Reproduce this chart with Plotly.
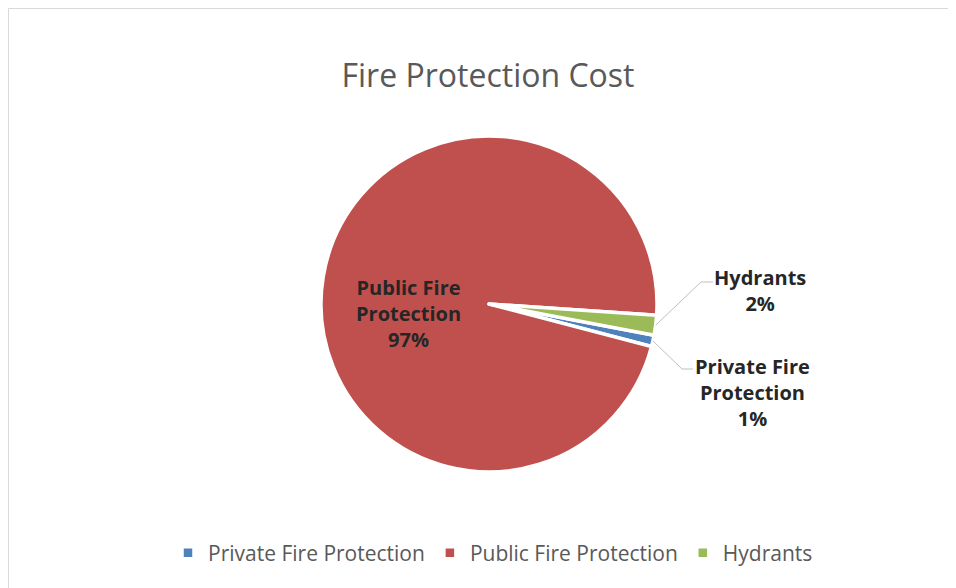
import math
import plotly.graph_objects as go

# Data
categories = ["Private Fire Protection", "Public Fire Protection", "Hydrants"]
label_lines = [["Private Fire", "Protection"], ["Public Fire", "Protection"], ["Hydrants"]]
values = [1.1, 97.0, 1.9]
colors = ["#4f81bd", "#c0504d", "#9bbb59"]

# Layout (page is offset by the 8px body margin)
OFF = 8
W, H = 956 - OFF, 588 - OFF
ROT = 100.7
cx, cy, R = 489 - OFF, 304 - OFF, 168


def px(x):
    return x / W


def py(y):
    return 1 - y / H


fig = go.Figure()
fig.add_trace(go.Pie(
    labels=categories,
    values=values,
    sort=False,
    direction="clockwise",
    rotation=ROT,
    marker=dict(colors=colors, line=dict(color="white", width=3.5)),
    textinfo="none",
    hoverinfo="label+percent",
    domain=dict(x=[px(cx - R), px(cx + R)], y=[py(cy + R), py(cy - R)]),
    showlegend=True,
))

# slice angles (clockwise from 12 o'clock) from data
total = sum(values)
starts, mids = [], []
a = ROT
for v in values:
    span = 360 * v / total
    starts.append(a)
    mids.append(a + span / 2)
    a += span

# label placement (layout constants, page coords minus offset)
label_pos = {
    0: (752 - OFF, 392 - OFF),
    1: (408 - OFF, 313 - OFF),
    2: (760 - OFF, 290 - OFF),
}
elbows = {
    0: [(682 - OFF, 369 - OFF), (693 - OFF, 369 - OFF)],
    2: [(701 - OFF, 282 - OFF), (713 - OFF, 282 - OFF)],
}

annotations = []
shapes = [
    dict(type="line", xref="paper", yref="paper",
         x0=px(0.5), x1=px(0.5), y0=0, y1=py(0.5),
         line=dict(color="#d9d9d9", width=1)),
    dict(type="line", xref="paper", yref="paper",
         x0=px(0.5), x1=1, y0=py(0.5), y1=py(0.5),
         line=dict(color="#d9d9d9", width=1)),
]

for i, cat in enumerate(categories):
    pct = round(100 * values[i] / total)
    txt = "<br>".join(label_lines[i] + [f"{pct}%"])
    lx, ly = label_pos[i]
    annotations.append(dict(
        x=px(lx), y=py(ly), xref="paper", yref="paper",
        text=f"<b>{txt}</b>", showarrow=False,
        xanchor="center", yanchor="middle", align="center",
        font=dict(family="Open Sans", size=20, color="#262626"),
    ))
    if i in elbows:
        th = math.radians(mids[i])
        sx = cx + R * math.sin(th)
        sy = cy - R * math.cos(th)
        pts = [(sx, sy)] + elbows[i]
        path = "M " + " L ".join(f"{px(x):.5f},{py(y):.5f}" for x, y in pts)
        shapes.append(dict(type="path", xref="paper", yref="paper", path=path,
                           line=dict(color="#bfbfbf", width=1)))

fig.update_layout(
    width=W, height=H,
    margin=dict(l=0, r=0, t=0, b=0),
    paper_bgcolor="white",
    plot_bgcolor="white",
    title=dict(text="Fire Protection Cost", x=px(488 - OFF), xanchor="center",
               y=py(76 - OFF), yanchor="middle",
               font=dict(family="Open Sans", size=32, color="#595959")),
    legend=dict(orientation="h", x=px(493 - OFF), xanchor="center",
                y=py(553 - OFF), yanchor="middle",
                font=dict(family="Open Sans", size=21, color="#595959"),
                traceorder="normal"),
    annotations=annotations,
    shapes=shapes,
)

fig.write_html("out.html")
